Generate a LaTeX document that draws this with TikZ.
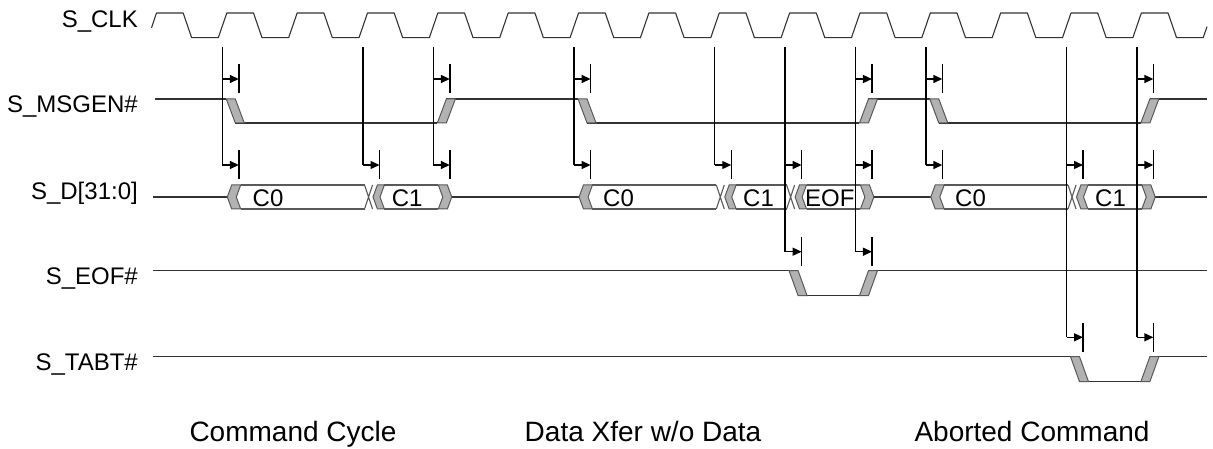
\documentclass[tikz,border=0pt]{standalone}
\usepackage{fontspec}
\setmainfont{Liberation Sans}
\usetikzlibrary{arrows.meta}
\def\mkA{222.3}\def\mkB{363.0}\def\mkC{433.35}\def\mkD{574.05}\def\mkE{714.75}
\def\mkF{785.1}\def\mkG{855.45}\def\mkH{925.8}\def\mkI{1066.5}\def\mkJ{1136.85}
\newcommand\tdFall[3]{\filldraw[band] ({#1+4},#2) -- ({#1+13},#2) -- ({#1+22},#3) -- ({#1+13},#3) -- cycle;}
\newcommand\tdRise[3]{\filldraw[band] ({#1+4},#3) -- ({#1+13},#3) -- ({#1+22},#2) -- ({#1+13},#2) -- cycle;}
\newcommand\tdOpen[1]{\filldraw[band] ({#1+5},197) -- ({#1+9.4},185) -- ({#1+18.4},185) -- ({#1+14},197) -- ({#1+18.4},209) -- ({#1+9.4},209) -- cycle;}
\newcommand\tdClose[1]{\filldraw[band] ({#1+5},185) -- ({#1+14},185) -- ({#1+18.4},197) -- ({#1+14},209) -- ({#1+5},209) -- ({#1+9.4},197) -- cycle;}
\newcommand\tdSwap[1]{\draw[busline] ({#1+1.5},185) -- ({#1+9.5},209) ({#1+1.5},209) -- ({#1+9.5},185);
  \filldraw[band] ({#1+10},197) -- ({#1+14.4},185) -- ({#1+21.4},185) -- ({#1+17},197) -- ({#1+21.4},209) -- ({#1+14.4},209) -- cycle;}
\newcommand\tdBox[2]{\draw[busline] (#1,185) -- (#2,185) (#1,209) -- (#2,209);}
\newcommand\tdMark[2]{\draw[mk] (#1,47) -- (#1,#2);}
\newcommand\tdArr[2]{\draw[delayarr] (#1,#2) -- ({#1+16.5},#2); \draw[mk] ({#1+16.5},{#2-14.5}) -- ({#1+16.5},{#2+14.5});}
\begin{document}
\begin{tikzpicture}[x=1pt,y=-1pt,
  sig/.style={draw=black!80, line width=1.1pt, line join=round},
  busline/.style={draw=black!65, line width=1.1pt},
  band/.style={fill=black!30, draw=black!65, line width=1pt},
  mk/.style={draw=black, line width=1.4pt},
  delayarr/.style={draw=black, line width=1.4pt, -{Triangle[length=9pt,width=8pt]}},
  siglab/.style={font=\fontsize{24}{28}\selectfont, anchor=base east, inner sep=0pt},
  datlab/.style={font=\fontsize{24}{28}\selectfont, anchor=base west, inner sep=0pt},
  bottomlab/.style={font=\fontsize{28}{32}\selectfont, anchor=base, inner sep=0pt}]
\useasboundingbox (0,0) rectangle (1213,449);
% clock
\draw[sig] (151.5,28) -- (156.45,13)
  \foreach \k in {0,...,13} { -- ({147.95+70.35*\k+35.2},13) -- ({147.95+70.35*\k+43.7},37.7) -- ({147.95+70.35*\k+70.35},37.7) -- ({147.95+70.35*\k+78.85},13) }
  -- (1168.05,13) -- (1176.55,37.7) -- (1203.2,37.7) -- (1207,26.6);
% S_MSGEN#
\draw[sig] (155,99) -- ({\mkA+4},99);
\draw[sig] ({\mkA+13},123) -- ({\mkC+4},123);
\draw[sig] ({\mkC+13},99) -- ({\mkD+4},99);
\draw[sig] ({\mkD+13},123) -- ({\mkG+4},123);
\draw[sig] ({\mkG+13},99) -- ({\mkH+4},99);
\draw[sig] ({\mkH+13},123) -- ({\mkJ+4},123);
\draw[sig] ({\mkJ+13},99) -- (1207,99);
\tdFall{\mkA}{99}{123}\tdRise{\mkC}{99}{123}\tdFall{\mkD}{99}{123}
\tdRise{\mkG}{99}{123}\tdFall{\mkH}{99}{123}\tdRise{\mkJ}{99}{123}
% S_D bus
\draw[sig] (153,197) -- ({\mkA+5},197);
\tdOpen{\mkA}\tdBox{\mkA+18.4}{\mkB+1.5}\tdSwap{\mkB}\tdBox{\mkB+21.4}{\mkC+5}\tdClose{\mkC}
\draw[sig] ({\mkC+18.4},197) -- ({\mkD+5},197);
\tdOpen{\mkD}\tdBox{\mkD+18.4}{\mkE+1.5}\tdSwap{\mkE}\tdBox{\mkE+21.4}{\mkF+1.5}\tdSwap{\mkF}
\tdBox{\mkF+21.4}{\mkG+5}\tdClose{\mkG}
\draw[sig] ({\mkG+18.4},197) -- ({\mkH+5},197);
\tdOpen{\mkH}\tdBox{\mkH+18.4}{\mkI+1.5}\tdSwap{\mkI}\tdBox{\mkI+21.4}{\mkJ+5}\tdClose{\mkJ}
\draw[sig] ({\mkJ+18.4},197) -- (1207,197);
\node[datlab] (d1) at (252.5,207) {C0};
\node[datlab] (d2) at (391.7,207) {C1};
\node[datlab] (d3) at (603,207) {C0};
\node[datlab] (d4) at (743,207) {C1};
\node[datlab] (d5) at (805,207) {EOF};
\node[datlab] (d6) at (955,207) {C0};
\node[datlab] (d7) at (1095,207) {C1};
% S_EOF#
\draw[sig] (153,270.7) -- ({\mkF+4},270.7);
\draw[sig] ({\mkF+13},295.7) -- ({\mkG+4},295.7);
\draw[sig] ({\mkG+13},270.7) -- (1207,270.7);
\tdFall{\mkF}{270.7}{295.7}\tdRise{\mkG}{270.7}{295.7}
% S_TABT#
\draw[sig] (153,356.7) -- ({\mkI+4},356.7);
\draw[sig] ({\mkI+13},381.7) -- ({\mkJ+4},381.7);
\draw[sig] ({\mkJ+13},356.7) -- (1207,356.7);
\tdFall{\mkI}{356.7}{381.7}\tdRise{\mkJ}{356.7}{381.7}
% markers and delay arrows
\tdMark{\mkA}{165}\tdArr{\mkA}{79}\tdArr{\mkA}{165}
\tdMark{\mkB}{165}\tdArr{\mkB}{165}
\tdMark{\mkC}{165}\tdArr{\mkC}{79}\tdArr{\mkC}{165}
\tdMark{\mkD}{165}\tdArr{\mkD}{79}\tdArr{\mkD}{165}
\tdMark{\mkE}{165}\tdArr{\mkE}{165}
\tdMark{\mkF}{251.7}\tdArr{\mkF}{165}\tdArr{\mkF}{251.7}
\tdMark{\mkG}{251.7}\tdArr{\mkG}{79}\tdArr{\mkG}{165}\tdArr{\mkG}{251.7}
\tdMark{\mkH}{165}\tdArr{\mkH}{79}\tdArr{\mkH}{165}
\tdMark{\mkI}{337.3}\tdArr{\mkI}{165}\tdArr{\mkI}{337.3}
\tdMark{\mkJ}{337.3}\tdArr{\mkJ}{79}\tdArr{\mkJ}{165}\tdArr{\mkJ}{337.3}
% labels
\node[siglab] (lclk) at (138,28) {S\_CLK};
\node[siglab] (lmsg) at (138,113) {S\_MSGEN\#};
\node[siglab] (ldat) at (138,199.5) {S\_D[31:0]};
\node[siglab] (leof) at (138,284) {S\_EOF\#};
\node[siglab] (ltabt) at (138,370.5) {S\_TABT\#};
\node[bottomlab] (c1) at (293,441) {Command Cycle};
\node[bottomlab] (c2) at (643,441) {Data Xfer w/o Data};
\node[bottomlab] (c3) at (1032,441) {Aborted Command};
\end{tikzpicture}
\end{document}
